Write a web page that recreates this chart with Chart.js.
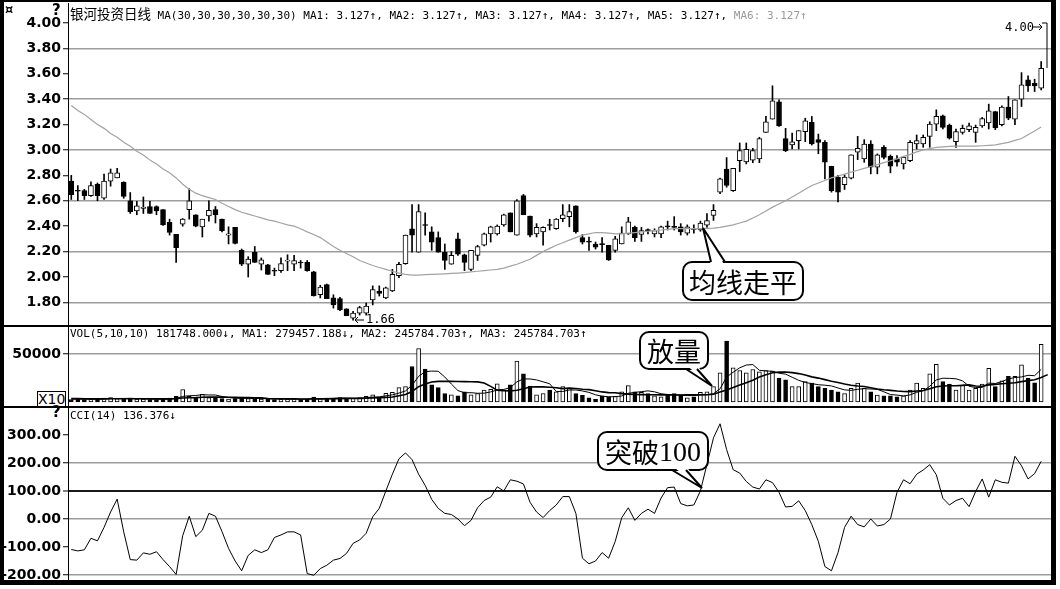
<!DOCTYPE html>
<html lang="zh-CN">
<head>
<meta charset="utf-8">
<title>银河投资日线</title>
<script src="https://cdn.jsdelivr.net/npm/chart.js@4.4.1/dist/chart.umd.min.js"></script>
<style>
html,body{margin:0;padding:0;background:#fff;}
body{width:1060px;height:589px;position:relative;overflow:hidden;}
.cv{position:absolute;left:0;}
#frame{position:absolute;left:0;top:0;width:1047px;height:578px;border-style:solid;border-color:#000;border-width:2px 5px 5px 4px;pointer-events:none;z-index:6;}
.divl{position:absolute;left:4px;width:1047px;background:#000;z-index:5}
.hdr{position:absolute;left:70px;font-family:'DejaVu Sans Mono',monospace;font-size:11px;line-height:13px;white-space:pre;color:#000;z-index:4}
.cjk{font-family:'Noto Sans CJK SC',sans-serif;font-size:13.5px;}
.gray{color:#9a9a9a}
.ico{position:absolute;font-family:'DejaVu Sans',sans-serif;font-weight:bold;z-index:7;line-height:14px}
.ann{position:absolute;font-family:'DejaVu Sans Mono',monospace;font-size:12px;line-height:12px;z-index:4;white-space:pre}
#x10{position:absolute;left:37px;top:391px;width:27px;height:14px;border:1px solid #000;font-family:'DejaVu Sans',sans-serif;font-size:14px;line-height:14px;text-align:center;z-index:4;background:#fff}
svg{position:absolute;left:0;top:0;z-index:5}
</style>
</head>
<body>
<canvas id="cPrice" class="cv" width="1051" height="322" style="top:3px"></canvas>
<canvas id="cVol" class="cv" width="1051" height="79" style="top:327px"></canvas>
<canvas id="cCci" class="cv" width="1051" height="172" style="top:408px"></canvas>
<div class="divl" style="top:325px;height:2px"></div>
<div class="divl" style="top:406px;height:2px"></div>
<div id="frame"></div>
<div class="ico" style="left:5px;top:3px;font-size:13px">¤</div>
<div class="ico" style="left:52px;top:3px;font-size:15px">?</div>
<div class="ico" style="left:52px;top:405px;font-size:15px">?</div>
<div class="hdr" style="top:7px"><span class="cjk">银河投资日线</span> MA(30,30,30,30,30,30) MA1: 3.127↑, MA2: 3.127↑, MA3: 3.127↑, MA4: 3.127↑, MA5: 3.127↑, <span class="gray">MA6: 3.127↑</span></div>
<div class="hdr" style="top:327px">VOL(5,10,10) 181748.000↓, MA1: 279457.188↓, MA2: 245784.703↑, MA3: 245784.703↑</div>
<div class="hdr" style="top:409px">CCI(14) 136.376↓</div>
<div id="x10">X10</div>
<div class="ann" style="left:366px;top:313px">1.66</div>
<div class="ann" style="left:1005px;top:21px">4.00</div>
<svg width="1060" height="589" viewBox="0 0 1060 589">
  <g stroke="#000" stroke-width="1" fill="none">
    <polyline points="364,320 355,320"/>
    <polyline points="358,317 355,320 358,323"/>
    <polyline points="1032,27 1042,27"/>
    <polyline points="1039,24 1042,27 1039,30"/>
    <polyline points="1042,23 1047,23 1047,68"/>
  </g>
  <g fill="#fff" stroke="#000" stroke-width="2">
    <rect x="683" y="262" width="120" height="38" rx="9"/>
    <rect x="640" y="332" width="68" height="37" rx="9"/>
    <rect x="598" y="432" width="110" height="38" rx="9"/>
  </g>
  <g fill="#fff" stroke="none">
    <polygon points="711,266 703,228 725,266"/>
    <polygon points="686,365 712,386 697,365"/>
    <polygon points="672,466 702,488 686,466"/>
  </g>
  <g fill="none" stroke="#000" stroke-width="2" stroke-linejoin="miter">
    <polyline points="711,262 703,228 725,262"/>
    <polyline points="686,369 712,386 697,369"/>
    <polyline points="672,470 702,488 686,470"/>
  </g>
  <g font-family="Noto Sans CJK SC" font-size="27" fill="#000" text-anchor="middle" dominant-baseline="central">
    <text x="743" y="281">均线走平</text>
    <text x="674" y="350">放量</text>
    <text x="653" y="451">突破<tspan font-family="Liberation Serif" font-size="28">100</tspan></text>
  </g>
</svg>
<script>
// ---- data ----
const dayLabels = Array.from({length:150}, (_, i) => i < 149 ? 'D' + (i + 1) : '');

const open = [
2.755,2.68,2.68,2.64,2.73,2.62,2.755,2.78,2.745,2.60,
2.52,2.54,2.555,2.555,2.53,2.43,2.335,2.415,2.53,2.49,
2.395,2.48,2.53,2.455,2.33,2.39,2.21,2.10,2.195,2.10,
2.095,2.05,2.05,2.125,2.10,2.115,2.115,2.04,1.86,1.94,
1.835,1.83,1.75,1.675,1.715,1.715,1.82,1.89,1.835,1.89,
2.01,2.105,2.38,2.195,2.41,2.355,2.31,2.195,2.10,2.30,
2.175,2.06,2.17,2.25,2.34,2.34,2.41,2.505,2.33,2.64,
2.48,2.34,2.355,2.41,2.38,2.46,2.475,2.56,2.31,2.28,
2.26,2.26,2.25,2.21,2.26,2.34,2.39,2.335,2.37,2.34,
2.34,2.40,2.395,2.395,2.345,2.38,2.37,2.407,2.485,2.668,
2.85,2.68,2.916,2.905,2.92,2.93,3.139,3.243,3.379,3.09,
3.039,3.073,3.144,3.217,3.081,3.06,2.872,2.786,2.726,2.778,
2.982,2.93,3.047,2.864,3.021,2.95,2.93,2.89,2.916,3.047,
3.047,3.107,3.204,3.269,3.196,3.065,3.139,3.16,3.139,3.19,
3.212,3.303,3.199,3.337,3.243,3.40,3.552,3.525,3.486];

const high = [
2.80,2.72,2.69,2.75,2.74,2.81,2.85,2.855,2.75,2.665,
2.595,2.63,2.595,2.56,2.53,2.455,2.335,2.46,2.695,2.49,
2.455,2.60,2.555,2.455,2.395,2.39,2.22,2.16,2.24,2.15,
2.10,2.07,2.15,2.175,2.17,2.13,2.13,2.045,1.935,1.945,
1.86,1.84,1.75,1.73,1.77,1.795,1.93,1.93,1.92,2.06,
2.115,2.33,2.57,2.57,2.505,2.395,2.355,2.26,2.20,2.345,
2.18,2.21,2.25,2.345,2.40,2.41,2.495,2.505,2.61,2.65,
2.48,2.42,2.395,2.455,2.46,2.57,2.57,2.56,2.335,2.315,
2.275,2.31,2.25,2.32,2.395,2.47,2.40,2.39,2.38,2.38,
2.40,2.44,2.475,2.42,2.41,2.41,2.44,2.50,2.57,2.778,
2.94,2.855,3.055,3.055,3.013,3.10,3.264,3.505,3.395,3.17,
3.133,3.152,3.25,3.264,3.125,3.073,2.872,2.80,2.804,2.961,
3.107,3.081,3.073,2.969,3.034,2.961,2.956,2.95,3.073,3.118,
3.118,3.222,3.316,3.275,3.204,3.165,3.196,3.212,3.196,3.256,
3.361,3.303,3.348,3.421,3.395,3.609,3.583,3.557,3.695];

const low = [
2.61,2.60,2.61,2.635,2.60,2.61,2.715,2.78,2.62,2.50,
2.49,2.50,2.50,2.49,2.405,2.33,2.115,2.40,2.455,2.395,
2.315,2.44,2.425,2.355,2.26,2.26,2.09,2.00,2.115,2.055,
2.02,2.01,2.035,2.05,2.05,2.07,2.045,1.85,1.835,1.83,
1.755,1.735,1.695,1.66,1.70,1.70,1.78,1.85,1.83,1.885,
1.995,2.10,2.195,2.195,2.33,2.21,2.195,2.06,2.10,2.17,
2.05,2.05,2.13,2.245,2.275,2.33,2.40,2.355,2.33,2.49,
2.315,2.315,2.25,2.37,2.375,2.435,2.395,2.345,2.26,2.21,
2.22,2.195,2.13,2.195,2.26,2.335,2.28,2.28,2.34,2.315,
2.31,2.37,2.37,2.33,2.33,2.345,2.36,2.39,2.445,2.655,
2.707,2.673,2.83,2.89,2.90,2.90,3.139,3.243,3.186,2.987,
3.008,3.008,3.065,3.039,2.97,2.773,2.668,2.59,2.689,2.773,
2.924,2.903,2.812,2.812,2.93,2.82,2.872,2.85,2.908,3.008,
3.021,3.021,3.152,3.165,3.086,3.021,3.125,3.144,3.06,3.178,
3.165,3.16,3.19,3.238,3.199,3.342,3.46,3.46,3.473];

const close = [
2.648,2.675,2.64,2.72,2.64,2.755,2.82,2.82,2.635,2.515,
2.56,2.55,2.50,2.52,2.41,2.35,2.23,2.455,2.60,2.40,
2.455,2.525,2.49,2.365,2.34,2.265,2.10,2.14,2.115,2.135,
2.02,2.045,2.105,2.13,2.13,2.11,2.05,1.85,1.92,1.83,
1.78,1.74,1.695,1.715,1.76,1.77,1.90,1.87,1.915,2.02,
2.10,2.33,2.33,2.515,2.405,2.275,2.195,2.13,2.17,2.18,
2.115,2.21,2.24,2.34,2.395,2.40,2.49,2.355,2.60,2.49,
2.33,2.39,2.39,2.405,2.455,2.49,2.515,2.355,2.275,2.275,
2.235,2.255,2.135,2.30,2.345,2.435,2.31,2.365,2.365,2.365,
2.395,2.395,2.39,2.355,2.395,2.375,2.425,2.445,2.525,2.773,
2.72,2.855,2.995,3.005,2.995,3.09,3.222,3.387,3.19,2.995,
3.065,3.152,3.23,3.047,3.06,2.903,2.68,2.668,2.786,2.961,
3.013,3.047,2.864,2.961,2.942,2.872,2.903,2.943,3.06,3.073,
3.10,3.204,3.264,3.178,3.092,3.144,3.17,3.19,3.178,3.248,
3.308,3.173,3.337,3.25,3.395,3.512,3.505,3.505,3.643];

const ma30 = [
3.35,3.31,3.28,3.24,3.20,3.17,3.13,3.10,3.06,3.03,
2.99,2.96,2.92,2.89,2.85,2.82,2.78,2.73,2.69,2.66,
2.64,2.625,2.61,2.58,2.555,2.53,2.51,2.495,2.48,2.465,
2.45,2.44,2.425,2.41,2.40,2.38,2.355,2.335,2.31,2.275,
2.24,2.21,2.185,2.16,2.13,2.11,2.09,2.075,2.06,2.045,
2.03,2.02,2.015,2.015,2.018,2.02,2.022,2.025,2.028,2.031,
2.035,2.04,2.045,2.05,2.055,2.06,2.07,2.085,2.10,2.12,
2.14,2.17,2.20,2.225,2.25,2.27,2.29,2.31,2.33,2.34,
2.35,2.35,2.345,2.34,2.34,2.345,2.35,2.355,2.36,2.365,
2.37,2.375,2.38,2.38,2.38,2.38,2.38,2.382,2.385,2.39,
2.40,2.41,2.425,2.44,2.465,2.49,2.52,2.55,2.575,2.60,
2.63,2.66,2.69,2.72,2.74,2.76,2.78,2.795,2.81,2.825,
2.84,2.855,2.87,2.885,2.90,2.915,2.93,2.95,2.965,2.985,
3.00,3.01,3.02,3.025,3.028,3.03,3.03,3.03,3.03,3.033,
3.036,3.04,3.05,3.06,3.075,3.09,3.12,3.15,3.18];

const volume = [
2500,3000,2500,3000,3500,4000,4500,3500,3000,4000,
3000,3000,2500,2500,3500,4000,6000,13000,6000,5000,
8000,4500,5000,3500,3000,3500,5000,3500,3000,3000,
3500,2500,3000,3000,3500,2500,3000,5000,3500,4000,
4000,4500,3500,4000,4500,6000,7500,5000,9000,10000,
15000,16000,37000,55700,34400,18000,15000,8900,7400,6400,
10600,7400,8900,12400,13100,18800,12400,18000,42500,29400,
16700,7400,8900,12400,10600,16000,14600,8900,7000,4300,
2900,6400,5400,6000,10700,17100,10700,10000,8900,6400,
5400,7900,8900,7100,4300,5400,10000,10700,16000,30300,
63500,35700,32800,30300,33900,31400,32800,32100,25000,23200,
16000,16000,21400,19600,16000,14300,12500,10700,8900,14300,
19600,14300,10700,7100,6400,6400,5400,6400,12500,19600,
14300,29300,39300,21400,18600,12500,17900,12500,14300,18600,
35000,16000,22100,26800,26800,38600,25000,20000,60000];

const volMa5 = [
3000,3000,2900,2900,2900,3200,3500,3700,3700,3800,
3600,3400,3200,3100,2900,3100,3700,5800,6500,6800,
7600,7300,7300,5700,4800,3900,3900,3700,3600,3600,
3400,3200,3100,3100,3100,2900,3000,3400,3500,3700,
3900,4200,4200,4100,4100,4500,5100,5400,6400,7500,
9300,11500,17500,26700,31600,32200,32000,26000,18700,11900,
9600,9700,9100,9200,10500,12500,13100,15000,21000,24000,
24000,23000,21000,19000,11000,11000,12500,12500,11500,10000,
7500,6000,5500,5500,6300,9100,10000,10800,11600,10600,
8600,7800,7700,7100,6700,6700,7300,7600,8700,13700,
26000,31000,35600,38500,39000,33000,32400,32000,30000,29000,
25800,22600,20300,19200,18000,17500,16700,14600,12600,12100,
13200,13900,13500,13200,10600,7800,7200,6300,7400,10100,
11700,16400,23000,24800,24600,24200,22000,16500,15000,15200,
19700,19300,21200,24100,25500,26100,27800,27400,34000];

const volMa10 = [
3500,3500,3400,3400,3300,3300,3400,3400,3400,3400,
3400,3400,3300,3300,3300,3300,3500,4200,4400,4600,
5000,5100,5200,5100,5000,4800,4700,4700,4500,4300,
3600,3400,3400,3300,3300,3200,3200,3300,3300,3300,
3400,3500,3600,3700,3700,3900,4300,4400,4800,5200,
6600,7800,11000,16000,18800,20800,21500,21500,21500,21300,
21200,21100,21000,19700,16300,12400,11800,11400,12300,13700,
15700,15800,15800,15400,14800,13900,14500,14100,13300,12900,
11800,10500,9800,9600,8700,8200,7800,7700,7500,7600,
7400,7400,7300,7300,7400,7400,7500,7600,8100,10300,
12600,15000,17600,20100,22700,26000,28500,30400,31100,31200,
30600,29600,28100,26200,24900,23300,21600,20400,18700,17400,
16600,16100,14900,13500,12700,12100,11400,11000,10800,11500,
12000,13900,15900,16700,16900,17000,17300,17800,16600,16400,
17800,18400,19000,19500,20100,21200,22300,23100,25500,28500];

const cci = [
-109,-114,-110,-69,-78,-30,25,71,-46,-145,
-147,-121,-126,-117,-145,-170,-198,-60,10,-63,
-40,20,10,-45,-105,-150,-185,-130,-110,-120,
-110,-66,-57,-46,-46,-57,-195,-201,-177,-165,
-147,-141,-123,-87,-75,-51,8,38,100,160,
215,236,212,160,120,70,38,20,16,0,
-24,-5,40,66,78,115,100,140,135,125,
60,25,5,30,50,80,80,20,-140,-160,
-150,-120,-140,-80,5,40,-5,20,35,20,
75,112,114,55,47,50,100,195,290,340,
248,176,164,134,114,107,140,130,95,43,
45,65,30,-20,-80,-170,-185,-120,-30,10,
-20,-28,0,-25,-20,0,95,140,126,160,
175,194,158,74,50,66,74,44,98,143,
78,140,131,128,224,190,143,162,206];

const priceTicks = [1.8,2.0,2.2,2.4,2.6,2.8,3.0,3.2,3.4,3.6,3.8,4.0];
const priceGrid = [1.8,2.2,2.6,3.0,3.4,3.8];
const volTicks = [50000];
const volGrid = [50000];
const cciTicks = [-200,-100,0,100,200,300];
const cciGrid = [-200,0,200];
const cciRef = [100];

// ---- helpers ----
const has = (arr, v) => v !== undefined && arr.some(a => Math.abs(a - v) < 1e-6);
const isUp = close.map((c, i) => c >= open[i]);

function yScale(min, max, tickVals, fmt, gridVals, refVals) {
  return {
    position: 'left', min, max, beginAtZero: false,
    afterBuildTicks: s => { s.ticks = tickVals.map(v => ({value: v})); },
    afterFit: s => { s.width = 68; s.paddingTop = 0; s.paddingBottom = 0; },
    border: {display: true, color: '#000', width: 1},
    grid: {
      drawTicks: true, tickLength: 5, tickColor: '#000', tickWidth: 1,
      color: c => { const v = c.tick && c.tick.value;
        if (has(refVals, v)) return '#1a1a1a';
        return has(gridVals, v) ? '#9d9d9d' : 'rgba(0,0,0,0)'; },
      lineWidth: c => { const v = c.tick && c.tick.value; return has(refVals, v) ? 2 : 1.5; }
    },
    ticks: {color: '#000', padding: 2, autoSkip: false,
      font: {family: 'DejaVu Sans', weight: 'bold', size: 14}, callback: fmt}
  };
}
function baseOptions(y) {
  return {
    responsive: false, animation: false, devicePixelRatio: 1,
    layout: {padding: 0},
    plugins: {legend: {display: false}, tooltip: {enabled: false}},
    scales: {
      x: {type: 'category', offset: true, display: false, grid: {display: false}},
      y
    }
  };
}

// ---- price panel ----
new Chart(document.getElementById('cPrice'), {
  type: 'bar',
  data: {
    labels: dayLabels,
    datasets: [
      {type: 'line', data: ma30, borderColor: '#a3a3a3', borderWidth: 1.2, pointRadius: 0, tension: 0, order: 0},
      {data: open.map((o, i) => [o, close[i]]), backgroundColor: isUp.map(u => u ? '#fff' : '#000'),
        borderColor: '#000', borderWidth: 1, borderSkipped: false, barThickness: 5, grouped: false, minBarLength: 1, order: 1},
      {data: low.map((l, i) => [l, high[i]]), backgroundColor: '#000', borderWidth: 0,
        barThickness: 1, grouped: false, order: 2}
    ]
  },
  options: baseOptions(yScale(1.622, 4.157, priceTicks, v => Number(v).toFixed(2), priceGrid, []))
});

// ---- volume panel ----
new Chart(document.getElementById('cVol'), {
  type: 'bar',
  data: {
    labels: dayLabels,
    datasets: [
      {type: 'line', data: volMa5, borderColor: '#000', borderWidth: 1, pointRadius: 0, tension: 0, order: 0},
      {type: 'line', data: volMa10, borderColor: '#000', borderWidth: 1.6, pointRadius: 0, tension: 0, order: 0},
      {data: volume, backgroundColor: isUp.map(u => u ? '#fff' : '#000'), borderColor: '#000',
        borderWidth: 1, borderSkipped: false, barThickness: 4, grouped: false, order: 1}
    ]
  },
  options: baseOptions(yScale(-4167, 78125, volTicks, v => String(v), volGrid, []))
});

// ---- CCI panel ----
new Chart(document.getElementById('cCci'), {
  type: 'line',
  data: {
    labels: dayLabels,
    datasets: [
      {data: cci, borderColor: '#000', borderWidth: 1, pointRadius: 0, tension: 0}
    ]
  },
  options: baseOptions(yScale(-217.9, 396.4, cciTicks, v => Number(v).toFixed(2), cciGrid, cciRef))
});
</script>
</body>
</html>
